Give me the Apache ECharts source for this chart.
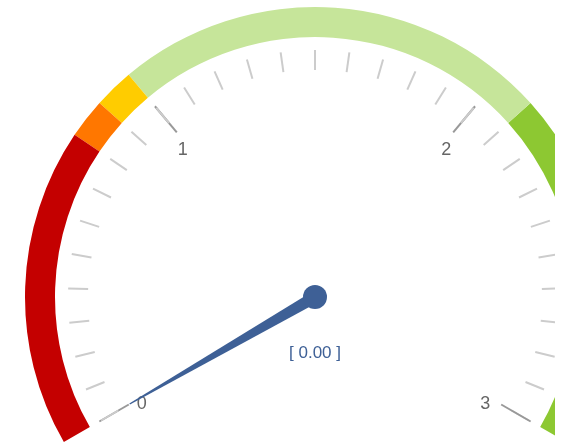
<!DOCTYPE html>
<html><head><meta charset="utf-8">
<script src="https://cdn.jsdelivr.net/npm/echarts@6/dist/echarts.min.js"></script>
<style>html,body{margin:0;padding:0;background:#fff;}#c{width:555px;height:442px;}</style>
</head><body><div id="c"></div>
<script>
var gaugeValue = 0;
var bandStops = [0.8 / 3, 0.9 / 3, 1.0 / 3, 2.1 / 3, 1];
var bandColors = ['#C40000', '#FF7700', '#FFCC00', '#C6E59A', '#8DC832'];
var tickLabels = ['0', '1', '2', '3'];
var labelFont = { color: '#666666', fontSize: 18, fontFamily: 'Liberation Sans, Arial, sans-serif' };
function lbl(pad) { return Object.assign({ padding: pad }, labelFont); }
var chart = echarts.init(document.getElementById('c'));
chart.setOption({
  animation: false,
  series: [{
    type: 'gauge',
    center: [315, 297],
    radius: 290,
    startAngle: 210,
    endAngle: -30,
    min: 0,
    max: 3,
    splitNumber: 3,
    axisLine: {
      lineStyle: {
        width: 30,
        color: bandStops.map(function (s, i) { return [s, bandColors[i]]; })
      }
    },
    splitLine: { distance: 11, length: 34, lineStyle: { color: '#999999', width: 2 } },
    axisTick: { splitNumber: 10, distance: 13, length: 20, lineStyle: { color: '#cccccc', width: 2 } },
    axisLabel: {
      distance: 30,
      color: '#666666',
      fontSize: 18,
      fontFamily: 'Liberation Sans, Arial, sans-serif',
      formatter: function (v) { var i = Math.round(v); return '{r' + i + '|' + tickLabels[i] + '}'; },
      rich: {
        r0: lbl([0, 0, 0, 8]),
        r1: lbl([35, 0, 0, 1]),
        r2: lbl([35, 2, 0, 0]),
        r3: lbl([0, 11, 0, 0])
      }
    },
    pointer: { icon: 'path://M4.4,0 L5.6,0 L10,100 L0,100 Z', length: 214, width: 12, itemStyle: { color: '#3E6096' } },
    anchor: { show: true, showAbove: true, size: 24, itemStyle: { color: '#3E6096' } },
    title: { show: false },
    detail: {
      offsetCenter: [0, 56],
      color: '#3E6096',
      fontSize: 17,
      fontWeight: 'normal',
      fontFamily: 'Liberation Sans, Arial, sans-serif',
      formatter: function (v) { return '[ ' + v.toFixed(2) + ' ]'; }
    },
    data: [{ value: gaugeValue }]
  }]
});
</script></body></html>
